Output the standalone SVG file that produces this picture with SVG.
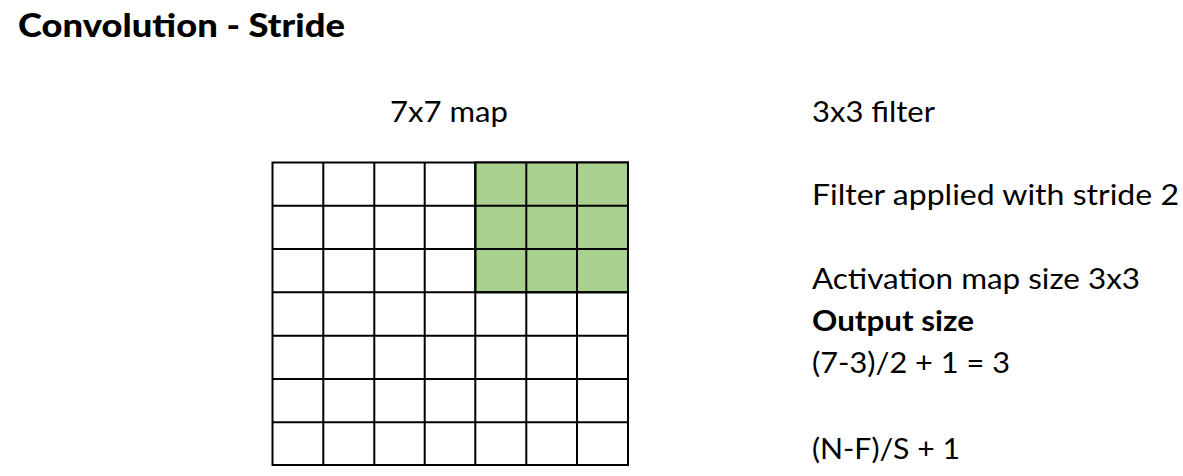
<svg xmlns="http://www.w3.org/2000/svg" width="1183" height="476" viewBox="0 0 1183 476">
<style>
.t{font-family:Lato,"Open Sans","Liberation Sans",sans-serif;font-size:28px;fill:#000}
.b{font-weight:bold}
.h{font-size:33px;font-weight:900}
.c{fill:#fff;stroke:#000;stroke-width:2}
.g{fill:#A9D18E;stroke:#000;stroke-width:2}
</style>
<rect width="1183" height="476" fill="#fff"/>
<text id="title" class="t h" x="18" y="37" textLength="327" lengthAdjust="spacingAndGlyphs">Convolution - Stride</text>
<g id="map">
<text class="t" x="390" y="122" textLength="118" lengthAdjust="spacingAndGlyphs">7x7 map</text>
<g id="cells">
<rect class="c" x="272.5" y="162.5" width="355.5" height="302.5"/>
<rect class="g" x="475.3" y="162.5" width="152.7" height="129.8"/>
<path d="M323.3 162.5V465M374.3 162.5V465M424.7 162.5V465M475.3 162.5V465M526.3 162.5V465M577 162.5V465M272.5 205.7H628M272.5 249H628M272.5 292.3H628M272.5 335.7H628M272.5 379H628M272.5 422.3H628" stroke="#000" stroke-width="2" fill="none"/>
</g>
</g>
<g id="notes">
<text class="t" x="812" y="122" textLength="123" lengthAdjust="spacingAndGlyphs">3x3 filter</text>
<text class="t" x="812" y="205" textLength="367" lengthAdjust="spacingAndGlyphs">Filter applied with stride 2</text>
<text class="t" x="812" y="289" textLength="328" lengthAdjust="spacingAndGlyphs">Activation map size 3x3</text>
<text class="t b" x="812" y="331" textLength="162" lengthAdjust="spacingAndGlyphs">Output size</text>
<text class="t" x="812" y="373" textLength="198" lengthAdjust="spacingAndGlyphs">(7-3)/2 + 1 = 3</text>
<text class="t" x="812" y="459" textLength="148" lengthAdjust="spacingAndGlyphs">(N-F)/S + 1</text>
</g>
</svg>
